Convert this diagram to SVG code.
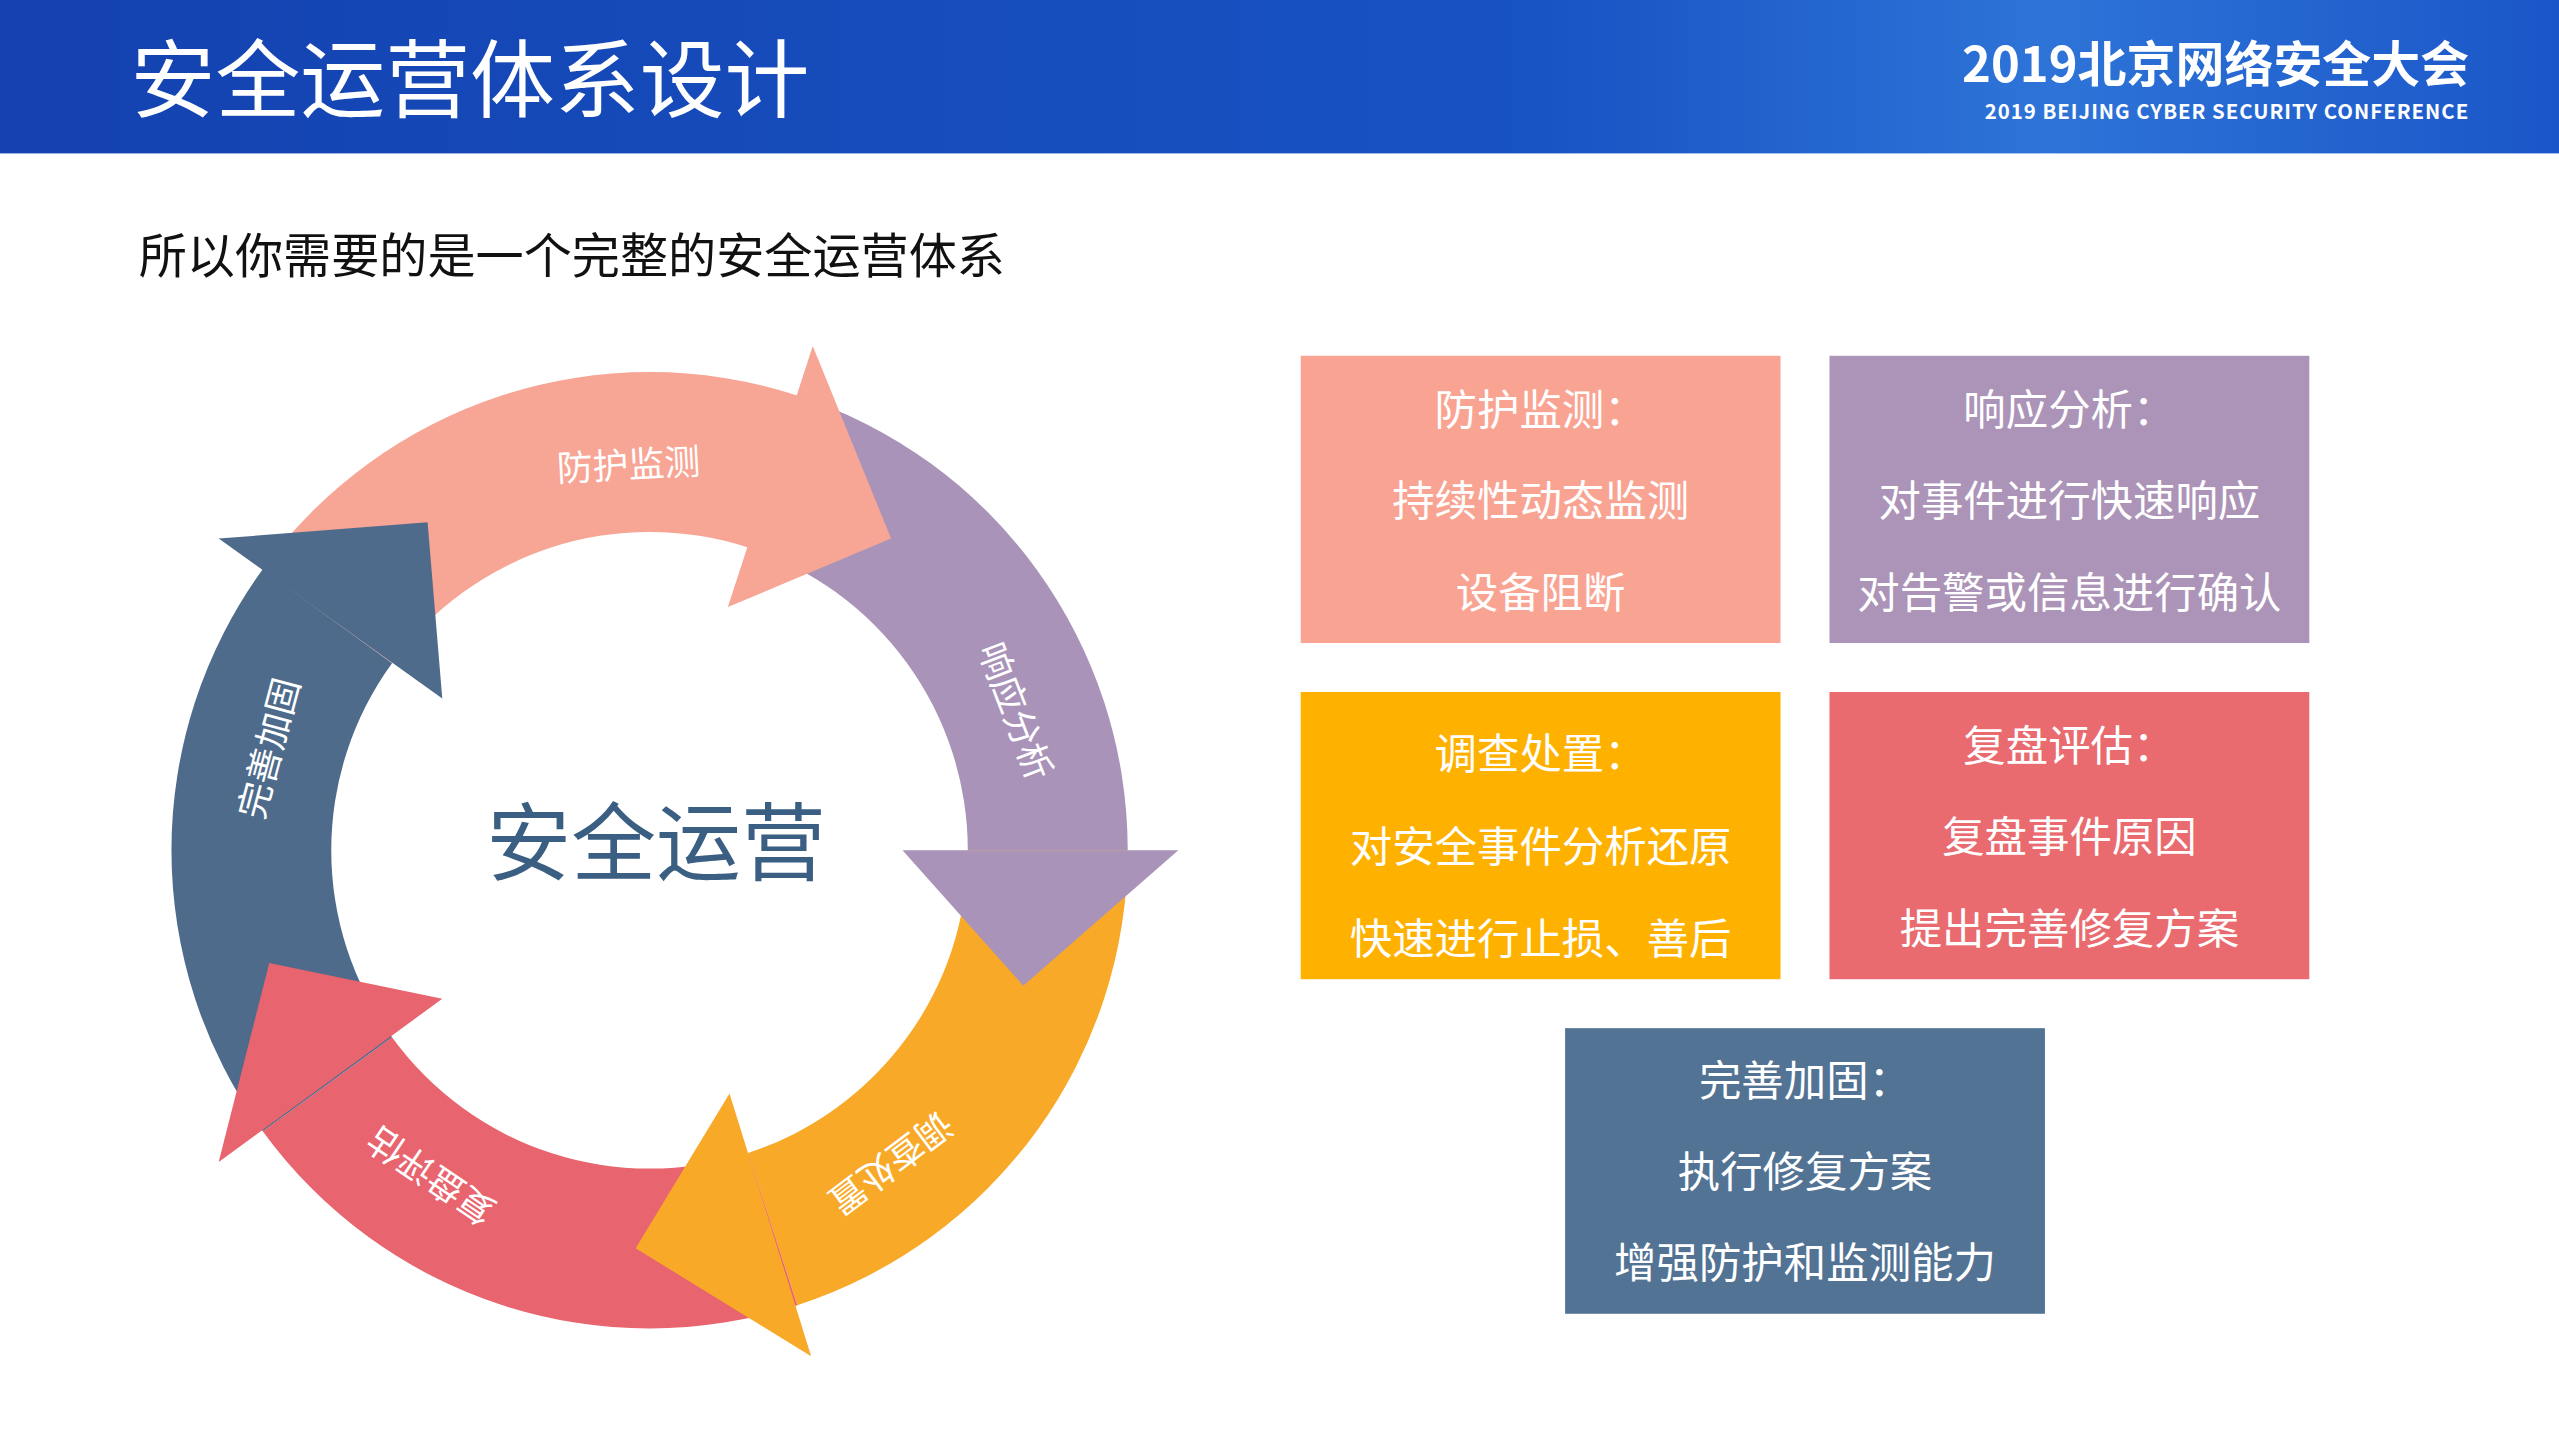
<svg xmlns="http://www.w3.org/2000/svg" width="2559" height="1439" viewBox="0 0 2559 1439">
<defs>
<linearGradient id="hdr" x1="0" y1="0" x2="1" y2="0">
<stop offset="0" stop-color="#1442B0"/><stop offset="0.6" stop-color="#1853C4"/><stop offset="0.8" stop-color="#2E74D8"/><stop offset="1" stop-color="#1A56C8"/>
</linearGradient>
<style>
text{font-family:"Noto Sans CJK SC","Noto Sans",sans-serif}
.bx{fill:#fff;font-size:26px;text-anchor:middle;dominant-baseline:central}
.rl{fill:#fff;font-size:22px;text-anchor:middle;dominant-baseline:central}
</style>
</defs>
<rect width="2559" height="1439" fill="#fff"/>
<g transform="scale(1.63202)">
<g id="header">
<rect x="0" y="0" width="1568" height="94" fill="url(#hdr)"/>
<text x="80" y="68" fill="#fff" font-size="52">安全运营体系设计</text>
<text x="1513" y="50" fill="#fff" font-size="30" font-weight="bold" text-anchor="end">2019北京网络安全大会</text>
<text x="1513" y="73" fill="#fff" font-size="12.5" font-weight="bold" text-anchor="end" letter-spacing="0.6">2019 BEIJING CYBER SECURITY CONFERENCE</text>
</g>
<text id="subtitle" x="85" y="167" fill="#111" font-size="29.5">所以你需要的是一个完整的安全运营体系</text>
<g id="cycle">
<path fill="#F7A595" d="M161,348.8 A293 293 0 0 1 488.5,242.3 L458.3,335.5 A195 195 0 0 0 240.2,406.4 Z"/>
<path fill="#A993B9" d="M488.5,242.3 A293 293 0 0 1 691,521 L593,521 A195 195 0 0 0 458.3,335.5 Z"/>
<path fill="#F8A928" d="M691,521 A293 293 0 0 1 488.5,799.7 L458.3,706.5 A195 195 0 0 0 593,521 Z"/>
<path fill="#E8646E" d="M488.5,799.7 A293 293 0 0 1 161,693.2 L240.2,635.6 A195 195 0 0 0 458.3,706.5 Z"/>
<path fill="#4E6B8C" d="M161,693.2 A293 293 0 0 1 161,348.8 L240.2,406.4 A195 195 0 0 0 240.2,635.6 Z"/>
<polygon fill="#F7A595" points="498,212 546,330 446,372"/>
<polygon fill="#A993B9" points="722,521 627,604 553,521"/>
<polygon fill="#F8A928" points="497,831 389.5,764.9 447,670"/>
<polygon fill="#E8646E" points="134,712 165,590 271,612"/>
<polygon fill="#4E6B8C" points="134,330 262,320 271,428"/>
<text class="rl" transform="translate(385,283) rotate(-3)">防护监测</text>
<text class="rl" transform="translate(624,435) rotate(69)">响应分析</text>
<text class="rl" transform="translate(547,714) rotate(143)">调查处置</text>
<text class="rl" transform="translate(263,722) rotate(214)">复盘评估</text>
<text class="rl" transform="translate(163,458) rotate(285)">完善加固</text>
<text x="402" y="513" fill="#3A5F82" font-size="52" text-anchor="middle" dominant-baseline="central">安全运营</text>
</g>
<g id="box1"><rect x="797" y="218" width="294" height="176" fill="#F9A493"/>
<text class="bx" x="944" y="249">防护监测：</text><text class="bx" x="944" y="305">持续性动态监测</text><text class="bx" x="944" y="361">设备阻断</text></g>
<g id="box2"><rect x="1121" y="218" width="294" height="176" fill="#AC94B8"/>
<text class="bx" x="1268" y="249">响应分析：</text><text class="bx" x="1268" y="305">对事件进行快速响应</text><text class="bx" x="1268" y="361">对告警或信息进行确认</text></g>
<g id="box3"><rect x="797" y="424" width="294" height="176" fill="#FFB100"/>
<text class="bx" x="944" y="460">调查处置：</text><text class="bx" x="944" y="517">对安全事件分析还原</text><text class="bx" x="944" y="573">快速进行止损、善后</text></g>
<g id="box4"><rect x="1121" y="424" width="294" height="176" fill="#E96B6F"/>
<text class="bx" x="1268" y="455">复盘评估：</text><text class="bx" x="1268" y="511">复盘事件原因</text><text class="bx" x="1268" y="567">提出完善修复方案</text></g>
<g id="box5"><rect x="959" y="630" width="294" height="175" fill="#527394"/>
<text class="bx" x="1106" y="660">完善加固：</text><text class="bx" x="1106" y="716">执行修复方案</text><text class="bx" x="1106" y="772">增强防护和监测能力</text></g>
<g id="connectors"/>
</g>
</svg>
